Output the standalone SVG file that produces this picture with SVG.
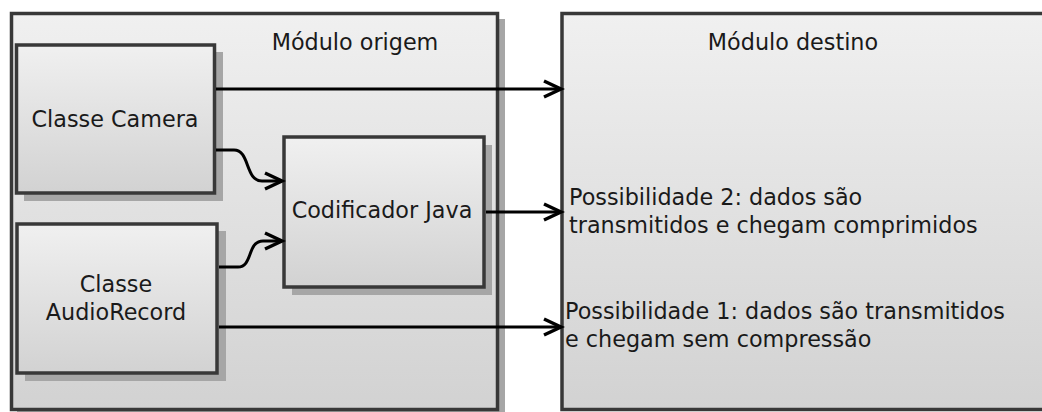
<svg xmlns="http://www.w3.org/2000/svg" width="1042" height="412" viewBox="0 0 1042 412">
<style>
.box{stroke:#383838;stroke-width:3.5;}
.shadow{fill:#a6a6a6;}
.lbl{font-family:"DejaVu Sans",Verdana,sans-serif;font-size:22.3px;fill:#1a1a1a;}
.c{text-anchor:middle;}
.conn{fill:none;stroke:#000;stroke-width:3;}
</style>
<defs>
<linearGradient id="g" x1="0" y1="0" x2="0" y2="1">
<stop offset="0" stop-color="#f0f0f0"/>
<stop offset="1" stop-color="#d2d2d2"/>
</linearGradient>
<marker id="arr" markerUnits="userSpaceOnUse" markerWidth="24" markerHeight="24" viewBox="-20 -12 24 24" refX="0" refY="0" orient="auto">
<path d="M-17,-8 L0,0 L-17,8" fill="none" stroke="#000" stroke-width="3.4" stroke-linejoin="miter"/>
</marker>
</defs>
<g id="modulo-origem">
<rect class="shadow" x="17" y="19" width="488" height="400"/>
<rect class="box" x="11.5" y="13.5" width="486" height="396" fill="url(#g)"/>
<text class="lbl c" x="355" y="50">Módulo origem</text>
</g>
<g id="modulo-destino">
<rect class="box" x="562" y="13.5" width="500" height="396" fill="url(#g)"/>
<text class="lbl c" x="793" y="50">Módulo destino</text>
<text class="lbl" x="569" y="205">Possibilidade 2: dados são</text>
<text class="lbl" x="569" y="233">transmitidos e chegam comprimidos</text>
<text class="lbl" x="565" y="319">Possibilidade 1: dados são transmitidos</text>
<text class="lbl" x="565" y="347">e chegam sem compressão</text>
</g>
<g id="classe-camera">
<rect class="shadow" x="24" y="52" width="199" height="149"/>
<rect class="box" x="16.5" y="45" width="198" height="148" fill="url(#g)"/>
<text class="lbl c" x="115" y="127">Classe Camera</text>
</g>
<g id="classe-audiorecord">
<rect class="shadow" x="25" y="231" width="201" height="150"/>
<rect class="box" x="17" y="224" width="200" height="149" fill="url(#g)"/>
<text class="lbl c" x="116" y="292">Classe</text>
<text class="lbl c" x="116" y="320">AudioRecord</text>
</g>
<g id="codificador-java">
<rect class="shadow" x="292" y="145" width="200" height="150"/>
<rect class="box" x="284" y="137" width="200" height="150" fill="url(#g)"/>
<text class="lbl c" x="382" y="218">Codificador Java</text>
</g>
<g id="connectors">
<path class="conn" d="M216,89 H561" marker-end="url(#arr)"/>
<path class="conn" d="M486,212 H561" marker-end="url(#arr)"/>
<path class="conn" d="M219,327 H561" marker-end="url(#arr)"/>
<path class="conn" d="M216,150 H234 C250,150 245,181 262,181 H282" marker-end="url(#arr)"/>
<path class="conn" d="M219,267 H238 C253,267 247,241 263,241 H282" marker-end="url(#arr)"/>
</g>
</svg>
